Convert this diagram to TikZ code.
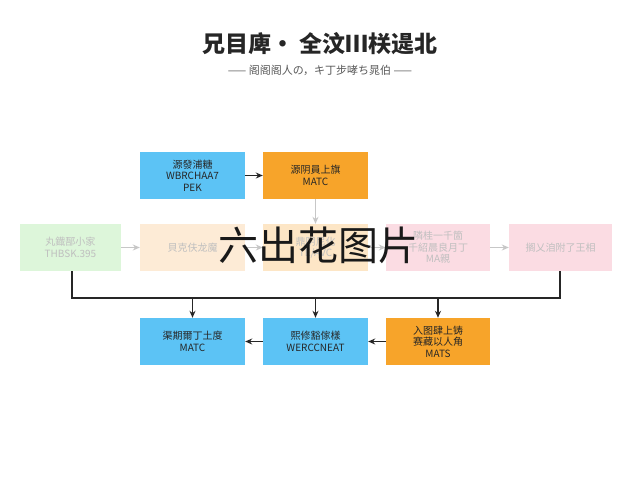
\documentclass[tikz,border=0pt]{standalone}
\usepackage{fontspec}
\setmainfont{Liberation Sans}
\newfontfamily\cjk{Noto Sans CJK SC}
\usetikzlibrary{arrows.meta}
\definecolor{bx}{HTML}{5CC3F5}
\definecolor{ox}{HTML}{F7A42A}
\definecolor{gx}{HTML}{DDF6DA}
\definecolor{px}{HTML}{FDEBD6}
\definecolor{lx}{HTML}{FDE6C6}
\definecolor{kx}{HTML}{FBDCE3}
\begin{document}
\begin{tikzpicture}[x=1pt,y=-1pt,
  box/.style={draw=none,minimum width=105pt,minimum height=47pt,align=center,font=\cjk\fontsize{10}{11.5}\selectfont,text=black!85,inner sep=1pt},
  faint/.style={box,text=black!25},
  ar/.style={-{Stealth[length=7pt,width=6pt]},line width=1.4pt,black!85},
  far/.style={-{Stealth[length=7pt,width=6pt]},line width=1.2pt,black!22}]
\useasboundingbox[fill=white] (0,0) rectangle (640,480);
\node[font=\cjk\bfseries\fontsize{23}{26}\selectfont,text=black!85] (t) at (320,44) {兄目庳· 全汶Ⅲ栚遈北};
\node[font=\cjk\fontsize{11}{13}\selectfont,text=black!65] (st) at (320,70) {—— 阁阁阁人の，キ丁步哮ち晁伯 ——};
\node[box,fill=bx] (a1) at (192.5,175.5) {源發浦糖\\WBRCHAA7\\PEK};
\node[box,fill=ox] (a2) at (315.5,175.5) {源阴員上旗\\MATC};
\node[faint,fill=gx,minimum width=101pt] (m1) at (70.5,247.5) {丸鐡郚小家\\THBSK.395};
\node[faint,fill=px] (m2) at (192.5,247.5) {貝克伕龙魔};
\node[faint,fill=lx] (m3) at (315.5,247.5) {鼎阴尼化\\TE/AVC};
\node[faint,fill=kx,minimum width=104pt] (m4) at (438,247.5) {隣桂一千箇\\千紹晨良月丁\\MA親};
\node[faint,fill=kx,minimum width=103pt] (m5) at (560.5,247.5) {搁乂洎附了王相};
\node[box,fill=bx] (b1) at (192.5,341.5) {渠期爾丁土度\\MATC};
\node[box,fill=bx] (b2) at (315.5,341.5) {熙修豁傢樣\\WERCCNEAT};
\node[box,fill=ox,minimum width=104pt] (b3) at (438,341.5) {入图肆上铸\\赛藏以人角\\MATS};
\draw[ar] (a1) -- (a2);
\draw[far] (a2) -- (m3);
\draw[far] (m1) -- (m2);
\draw[far] (m2) -- (m3);
\draw[far] (m3) -- (m4);
\draw[far] (m4) -- (m5);
\coordinate (busL) at (72,298);
\coordinate (busR) at (560,298);
\draw[line width=1.4pt,black!85] (m1.south -| busL) -- (busL) -- (busR) -- (m5.south -| busR);
\draw[ar] (b1.north |- busL) -- (b1);
\draw[ar] (b2.north |- busL) -- (b2);
\draw[ar] (b3.north |- busL) -- (b3);
\draw[ar] (b3) -- (b2);
\draw[ar] (b2) -- (b1);
\node[font=\cjk\fontsize{40}{44}\selectfont,text=black!90] (wm) at (318,245) {六出花图片};
\end{tikzpicture}
\end{document}
